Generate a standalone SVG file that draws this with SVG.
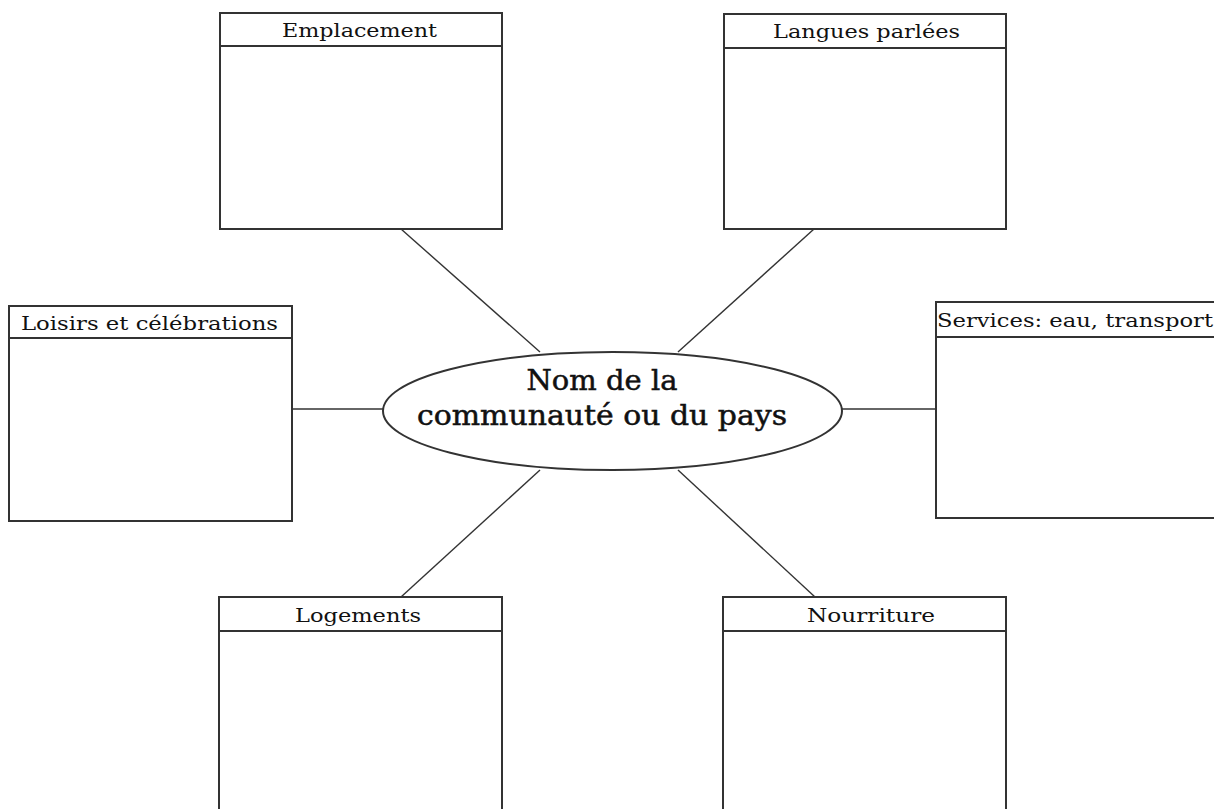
<svg xmlns="http://www.w3.org/2000/svg" width="1214" height="809" viewBox="0 0 1214 809">
<style>
.box{fill:#fff;stroke:#333;stroke-width:2}
.hdr{fill:none;stroke:#333;stroke-width:2}
.lbl{font-family:"DejaVu Serif","Liberation Serif",serif;font-size:18px;fill:#111}
.ctr{font-family:"DejaVu Serif","Liberation Serif",serif;font-size:27px;fill:#111;stroke:#111;stroke-width:0.5;text-anchor:middle}
.con{stroke:#333;stroke-width:1.4;fill:none}
</style>
<rect width="1214" height="809" fill="#fff"/>
<g id="connectors">
<line class="con" x1="401" y1="229" x2="540" y2="352"/>
<line class="con" x1="814" y1="229" x2="678" y2="352"/>
<line class="con" x1="292" y1="409" x2="383" y2="409"/>
<line class="con" x1="842" y1="409" x2="936" y2="409"/>
<line class="con" x1="540" y1="470" x2="401" y2="597"/>
<line class="con" x1="678" y1="470" x2="815" y2="597"/>
</g>
<g id="emplacement">
<rect class="box" x="220" y="13" width="282" height="216"/>
<line class="hdr" x1="220" y1="46" x2="502" y2="46"/>
<text class="lbl" x="282" y="37" textLength="155" lengthAdjust="spacingAndGlyphs">Emplacement</text>
</g>
<g id="langues">
<rect class="box" x="724" y="14" width="282" height="215"/>
<line class="hdr" x1="724" y1="48" x2="1006" y2="48"/>
<text class="lbl" x="773" y="38" textLength="187" lengthAdjust="spacingAndGlyphs">Langues parlées</text>
</g>
<g id="loisirs">
<rect class="box" x="9" y="306" width="283" height="215"/>
<line class="hdr" x1="9" y1="338" x2="292" y2="338"/>
<text class="lbl" x="21" y="330" textLength="257" lengthAdjust="spacingAndGlyphs">Loisirs et célébrations</text>
</g>
<g id="services">
<rect class="box" x="936" y="302" width="290" height="216"/>
<line class="hdr" x1="936" y1="337" x2="1226" y2="337"/>
<text class="lbl" x="937" y="327" textLength="276" lengthAdjust="spacingAndGlyphs">Services: eau, transport</text>
</g>
<g id="logements">
<rect class="box" x="219" y="597" width="283" height="230"/>
<line class="hdr" x1="219" y1="631" x2="502" y2="631"/>
<text class="lbl" x="295" y="622" textLength="126" lengthAdjust="spacingAndGlyphs">Logements</text>
</g>
<g id="nourriture">
<rect class="box" x="723" y="597" width="283" height="230"/>
<line class="hdr" x1="723" y1="631" x2="1006" y2="631"/>
<text class="lbl" x="807" y="622" textLength="128" lengthAdjust="spacingAndGlyphs">Nourriture</text>
</g>
<g id="centre">
<ellipse class="box" cx="612.5" cy="411" rx="229.5" ry="59"/>
<text class="ctr" x="602" y="390" textLength="151" lengthAdjust="spacingAndGlyphs">Nom de la</text>
<text class="ctr" x="602" y="425" textLength="370" lengthAdjust="spacingAndGlyphs">communauté ou du pays</text>
</g>
</svg>
